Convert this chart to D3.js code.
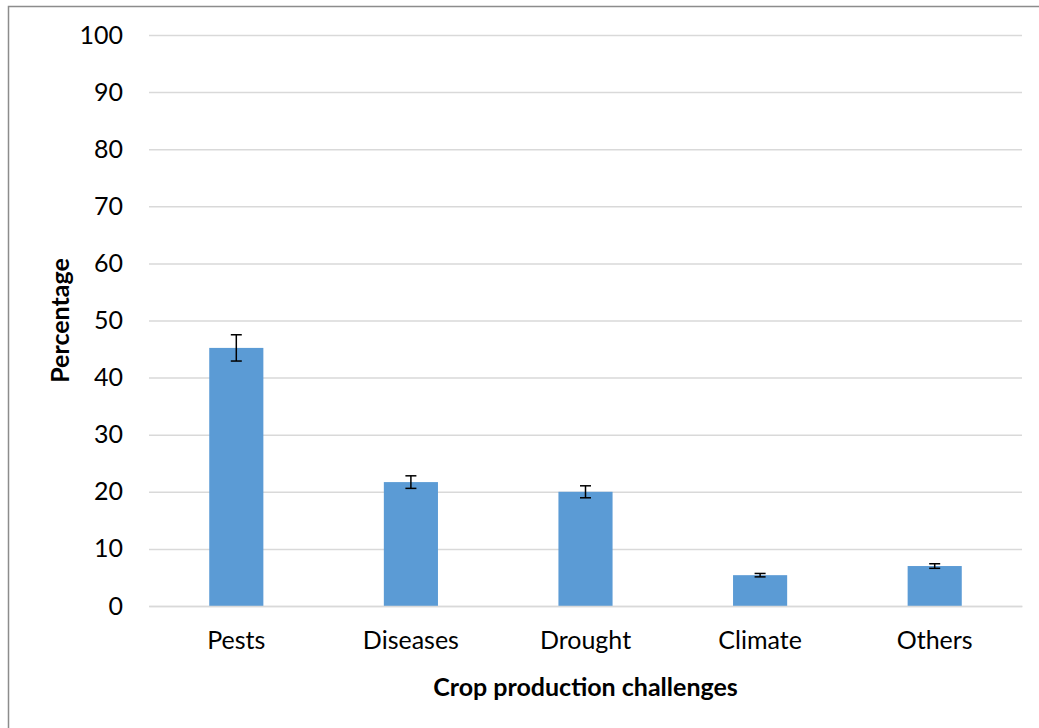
<!DOCTYPE html>
<html>
<head>
<meta charset="utf-8">
<script src="https://cdn.jsdelivr.net/npm/d3@7"></script>
<style>
  body { margin: 0; background: #fff; }
  text { font-family: Lato, "Open Sans", sans-serif; fill: #000; }
</style>
</head>
<body>
<script>
const categories = ['Pests', 'Diseases', 'Drought', 'Climate', 'Others']
const values = [45.2, 21.7, 20.0, 5.4, 7.0]
const errors = [2.3, 1.1, 1.05, 0.3, 0.4]
const y_ticks = [0, 10, 20, 30, 40, 50, 60, 70, 80, 90, 100]

const width = 1039
const height = 728
const margin = {top: 35, left: 149, right: 17, bottom: 122}
const font_size = 25

const svg = d3.select('body').append('svg')
  .attr('width', width)
  .attr('height', height)

// chart frame (right and bottom edges fall outside the picture)
svg.append('rect')
  .attr('x', 8.5).attr('y', 6.5)
  .attr('width', width + 10).attr('height', height + 10)
  .attr('fill', 'none')
  .attr('stroke', '#8c8c8c')
  .attr('stroke-width', 1.5)

const x = d3.scaleBand()
  .domain(categories)
  .range([margin.left, width - margin.right])
  .padding(0)

const y = d3.scaleLinear()
  .domain([0, 100])
  .range([height - margin.bottom, margin.top])

const bar_w = x.bandwidth() * 0.31

// grid + y labels
const yAxis = g => g
  .attr('transform', `translate(${margin.left},0)`)
  .call(d3.axisLeft(y).tickValues(y_ticks).tickSize(-(width - margin.left - margin.right)).tickPadding(26))
  .call(g => g.select('.domain').remove())
  .call(g => g.selectAll('.tick line').attr('stroke', '#d9d9d9').attr('stroke-width', 1.5))
  .call(g => g.selectAll('.tick text').attr('font-size', font_size).attr('font-family', 'Lato').attr('fill', '#000'))

svg.append('g').call(yAxis)

// bars
svg.append('g')
    .attr('fill', '#5b9bd5')
  .selectAll('rect').data(values).enter().append('rect')
    .attr('x', (d, i) => x(categories[i]) + (x.bandwidth() - bar_w) / 2)
    .attr('y', d => y(d))
    .attr('width', bar_w)
    .attr('height', d => y(0) - y(d))

// error bars
const eb = svg.append('g')
  .attr('stroke', '#000')
  .attr('stroke-width', 1.5)
values.forEach((v, i) => {
  const cx = x(categories[i]) + x.bandwidth() / 2
  eb.append('line')
    .attr('x1', cx).attr('x2', cx)
    .attr('y1', y(v + errors[i])).attr('y2', y(v - errors[i]))
  ;[v + errors[i], v - errors[i]].forEach(e => {
    eb.append('line')
      .attr('x1', cx - 5.5).attr('x2', cx + 5.5)
      .attr('y1', y(e)).attr('y2', y(e))
  })
})

// x axis baseline + labels
const xAxis = g => g
  .attr('transform', `translate(0,${y(0)})`)
  .call(d3.axisBottom(x).tickSize(0).tickPadding(25))
  .call(g => g.select('.domain').attr('stroke', '#d9d9d9').attr('stroke-width', 1.5))
  .call(g => g.selectAll('.tick text').attr('font-size', font_size).attr('font-family', 'Lato').attr('fill', '#000'))

svg.append('g').call(xAxis)

svg.append('text')
  .attr('x', (margin.left + width - margin.right) / 2)
  .attr('y', 696)
  .attr('text-anchor', 'middle')
  .attr('font-size', font_size)
  .attr('font-weight', 'bold')
  .text('Crop production challenges')

svg.append('text')
  .attr('transform', `translate(69,${(y(0) + y(100)) / 2}) rotate(-90)`)
  .attr('text-anchor', 'middle')
  .attr('font-size', font_size)
  .attr('font-weight', 'bold')
  .text('Percentage')
</script>
</body>
</html>
